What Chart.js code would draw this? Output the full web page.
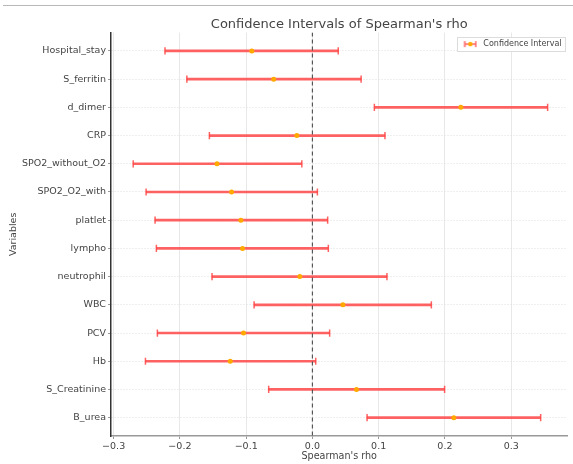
<!DOCTYPE html>
<html>
<head>
<meta charset="utf-8">
<script src="https://cdn.jsdelivr.net/npm/chart.js@4/dist/chart.umd.min.js"></script>
<style>
  html, body { margin: 0; padding: 0; background: #fff; }
  #wrap { position: relative; width: 573px; height: 464px; }
  #topline { position: absolute; left: 3px; top: 5px; width: 570px; height: 1px; background: #b8b8b8; }
</style>
</head>
<body>
<div id="wrap">
  <canvas id="chart" width="573" height="464"></canvas>
  <div id="topline"></div>
</div>
<script>
const variables = ["Hospital_stay", "S_ferritin", "d_dimer", "CRP", "SPO2_without_O2", "SPO2_O2_with",
  "platlet", "lympho", "neutrophil", "WBC", "PCV", "Hb", "S_Creatinine", "B_urea"];
const rhoValues = [-0.0915, -0.0585, 0.224, -0.0235, -0.144, -0.122, -0.108, -0.1055, -0.019, 0.046, -0.104, -0.124, 0.0665, 0.2135];
const ciLower = [-0.2225, -0.1895, 0.0935, -0.1555, -0.2705, -0.251, -0.2375, -0.2355, -0.1515, -0.088, -0.234, -0.252, -0.066, 0.0825];
const ciUpper = [0.039, 0.0735, 0.355, 0.1095, -0.016, 0.0075, 0.023, 0.024, 0.1125, 0.1795, 0.026, 0.005, 0.1995, 0.3445];
const xTicks = [-0.3, -0.2, -0.1, 0.0, 0.1, 0.2, 0.3];

const RED = "rgba(255,70,70,0.85)";
const ORANGE = "#ffa800";
const FONT = "'DejaVu Sans', sans-serif";

// legend icon: small error bar with dot
function errorbarIcon() {
  const c = document.createElement("canvas");
  c.width = 14; c.height = 8;
  const g = c.getContext("2d");
  g.strokeStyle = RED; g.lineWidth = 1.5;
  g.beginPath();
  g.moveTo(1, 4); g.lineTo(13, 4);
  g.moveTo(1.5, 1); g.lineTo(1.5, 7);
  g.moveTo(12.5, 1); g.lineTo(12.5, 7);
  g.stroke();
  g.fillStyle = ORANGE;
  g.beginPath(); g.arc(7, 4, 2.3, 0, Math.PI * 2); g.fill();
  return c;
}
const icon = errorbarIcon();

// title centred over the plot, legend moved to the top-right corner of the plot
// (runs after the legend plugin has laid out its hit boxes)
const placeBoxes = {
  id: "placeBoxes",
  afterUpdate(chart) {
    const area = chart.chartArea;
    const tb = chart.titleBlock;
    if (tb) { tb.left = area.left; tb.right = area.right; }
    const lg = chart.legend;
    if (!lg || !lg.legendHitBoxes.length) return;
    const hb = lg.legendHitBoxes[0];
    const dx = (area.right - hb.width - 6) - hb.left;
    const dy = (area.top + 7.5) - hb.top;
    lg.left += dx; lg.right += dx; lg.top += dy; lg.bottom += dy;
    hb.left += dx; hb.top += dy;
  },
  afterDraw(chart) {
    const lg = chart.legend;
    if (!lg || !lg.legendHitBoxes.length) return;
    const hb = lg.legendHitBoxes[0];
    const ctx = chart.ctx;
    const x = Math.round(hb.left - 4), y = Math.round(hb.top - 3);
    const w = Math.round(hb.width + 8), h = Math.round(hb.height + 6);
    ctx.save();
    ctx.fillStyle = "#fff";
    ctx.fillRect(x, y, w, h);
    ctx.strokeStyle = "#dcdcdc";
    ctx.lineWidth = 1;
    ctx.strokeRect(x + 0.5, y + 0.5, w, h);
    ctx.restore();
    lg.draw();
  }
};

const minus = v => (v < 0 ? "\u2212" : "") + Math.abs(v).toFixed(1);

new Chart(document.getElementById("chart"), {
  type: "scatter",
  data: {
    datasets: [
      {
        label: "rho",
        data: variables.map((v, i) => ({ x: rhoValues[i], y: i })),
        backgroundColor: ORANGE,
        borderColor: ORANGE,
        pointRadius: 2.5,
        borderWidth: 0,
        order: 0
      },
      {
        label: "zero",
        type: "line",
        data: [{ x: 0, y: -0.65 }, { x: 0, y: 13.65 }],
        borderColor: "#555",
        borderWidth: 1.2,
        borderDash: [4, 3],
        pointRadius: 0,
        order: 1
      },
      {
        label: "caps",
        data: variables.flatMap((v, i) => [{ x: ciLower[i], y: i }, { x: ciUpper[i], y: i }]),
        pointStyle: "line",
        rotation: 90,
        pointRadius: 3.6,
        borderColor: RED,
        borderWidth: 1.5,
        order: 2
      },
      {
        label: "Confidence Interval",
        type: "bar",
        indexAxis: "y",
        data: variables.map((v, i) => ({ x: [ciLower[i], ciUpper[i]], y: i })),
        backgroundColor: RED,
        borderWidth: 0,
        barThickness: 2,
        order: 3
      }
    ]
  },
  options: {
    animation: false,
    responsive: false,
    layout: { padding: { left: 0, right: 2, top: 0, bottom: 0 } },
    plugins: {
      title: {
        display: true,
        text: "Confidence Intervals of Spearman's rho",
        color: "#444",
        font: { family: FONT, size: 13, weight: "normal" },
        padding: { top: 17, bottom: 0 }
      },
      legend: {
        position: "chartArea",
        align: "start",
        labels: {
          usePointStyle: true,
          pointStyleWidth: 18,
          padding: 6,
          color: "#444",
          font: { family: FONT, size: 8 },
          generateLabels: () => [{
            text: "Confidence Interval",
            pointStyle: icon,
            datasetIndex: 3,
            fontColor: "#444",
            lineWidth: 0
          }]
        }
      },
      tooltip: { enabled: false }
    },
    scales: {
      x: {
        type: "linear",
        min: -0.304,
        max: 0.385,
        afterBuildTicks: s => { s.ticks = xTicks.map(v => ({ value: v })); },
        afterFit: s => { s.height = 28; },
        ticks: { color: "#444", font: { family: FONT, size: 9.5 }, padding: 2, callback: v => minus(v) },
        grid: { color: "#e8e8e8", lineWidth: 1, tickLength: 3, tickColor: "#999" },
        border: { color: "#999", width: 1.5 },
        title: {
          display: true,
          text: "Spearman's rho",
          color: "#444",
          font: { family: FONT, size: 9.6 },
          padding: { top: 0, bottom: 2 }
        }
      },
      y: {
        type: "linear",
        reverse: true,
        offset: false,
        min: -0.65,
        max: 13.65,
        afterBuildTicks: s => { s.ticks = variables.map((v, i) => ({ value: i })); },
        afterFit: s => { s.width = 111; },
        ticks: { color: "#444", font: { family: FONT, size: 9.5 }, padding: 2, callback: v => variables[v] },
        grid: { offset: false, color: "#dedede", lineWidth: 1, tickLength: 3, tickColor: "#999" },
        border: { color: "#333", width: 1.5, dash: [1, 2] },
        title: {
          display: true,
          text: "Variables",
          color: "#444",
          font: { family: FONT, size: 9.5 },
          padding: { top: 8, bottom: 0 }
        }
      }
    }
  },
  plugins: [placeBoxes]
});
</script>
</body>
</html>
